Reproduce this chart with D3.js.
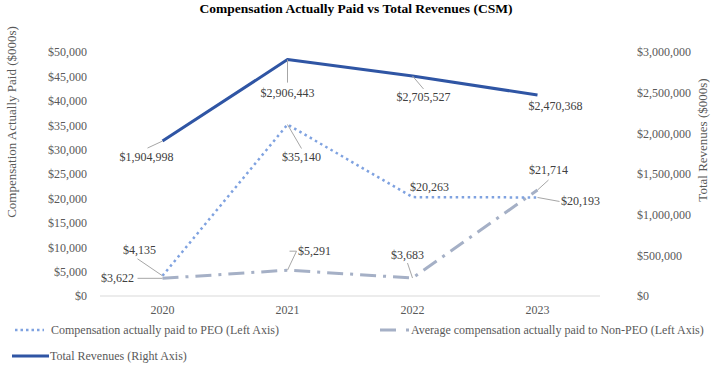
<!DOCTYPE html>
<html><head><meta charset="utf-8">
<script src="https://cdn.jsdelivr.net/npm/d3@7"></script>
<style>body{margin:0;background:#fff}svg{display:block}text{font-family:"Liberation Serif","Times New Roman",serif}</style>
</head><body><svg id="c" width="712" height="369"></svg>
<script>
const years = ["2020","2021","2022","2023"];
const peo = [4135, 35140, 20263, 20193];
const nonPeo = [3622, 5291, 3683, 21714];
const revenue = [1904998, 2906443, 2705527, 2470368];
const leftTicks = [0,5000,10000,15000,20000,25000,30000,35000,40000,45000,50000];
const rightTicks = [0,500000,1000000,1500000,2000000,2500000,3000000];

// label placement (layout only): [dx, dy] of label center from point, leader path offsets
const peoLbl = [{dx:-23,dy:-26,lead:[[-25,-17]]},{dx:14,dy:32,lead:[[14,24]]},{dx:17,dy:-10,lead:null},{dx:43,dy:4,lead:[[22,4]]}];
const nonLbl = [{dx:-45,dy:0,lead:[[-25,0]]},{dx:27,dy:-19,lead:[[9,-19],[2,-19]]},{dx:-5,dy:-23,lead:[[-5,-15]]},{dx:11,dy:-20,lead:[[11,-10]]}];
const revLbl = [{dx:-16,dy:16,lead:[[-15,7]]},{dx:0,dy:33,lead:[[0,23]]},{dx:11,dy:21,lead:[[11,13]]},{dx:18,dy:11,lead:null}];

const svg = d3.select("#c");
const L=100, R=600, T=52, B=296;
const x = d3.scaleBand().domain(years).range([L,R]).padding(0);
const cx = d => x(d)+x.bandwidth()/2;
const yL = d3.scaleLinear().domain([0,50000]).range([B,T]);
const yR = d3.scaleLinear().domain([0,3000000]).range([B,T]);
const fmt = v => "$"+d3.format(",")(v);

svg.append("text").attr("x",356).attr("y",13).attr("text-anchor","middle")
  .attr("font-size",13.5).attr("font-weight","bold").attr("fill","#000")
  .text("Compensation Actually Paid vs Total Revenues (CSM)");

svg.append("line").attr("x1",L).attr("x2",R).attr("y1",B).attr("y2",B).attr("stroke","#d9d9d9").attr("stroke-width",1);

const gl = svg.append("g").attr("transform",`translate(${L},0)`)
  .call(d3.axisLeft(yL).tickValues(leftTicks).tickFormat(fmt).tickSize(0).tickPadding(13));
const gr = svg.append("g").attr("transform",`translate(${R},0)`)
  .call(d3.axisRight(yR).tickValues(rightTicks).tickFormat(fmt).tickSize(0).tickPadding(37));
const gx = svg.append("g").attr("transform",`translate(0,${B})`)
  .call(d3.axisBottom(x).tickSize(0).tickPadding(9));
[gl,gr,gx].forEach(g=>{g.select(".domain").remove();
  g.selectAll("text").attr("font-size",12).attr("fill","#595959");});

svg.append("text").attr("transform","translate(16,122) rotate(-90)").attr("text-anchor","middle")
  .attr("font-size",13).attr("fill","#595959").text("Compensation Actually Paid ($000s)");
svg.append("text").attr("transform","translate(707,140) rotate(-90)").attr("text-anchor","middle")
  .attr("font-size",13).attr("fill","#595959").text("Total Revenues ($000s)");

const lineL = d3.line().x((d,i)=>cx(years[i])).y(d=>yL(d));
const lineR = d3.line().x((d,i)=>cx(years[i])).y(d=>yR(d));
svg.append("path").attr("d",lineL(nonPeo)).attr("fill","none").attr("stroke","#A5B0C6")
  .attr("stroke-width",3).attr("stroke-dasharray","16,7,3,7");
svg.append("path").attr("d",lineL(peo)).attr("fill","none").attr("stroke","#7FA2E0")
  .attr("stroke-width",2.5).attr("stroke-dasharray","2.5,3.5");
svg.append("path").attr("d",lineR(revenue)).attr("fill","none").attr("stroke","#2F55A4")
  .attr("stroke-width",3).attr("stroke-linejoin","round");

function labels(vals, scale, lbl){
  vals.forEach((v,i)=>{
    const px=cx(years[i]), py=scale(v), o=lbl[i];
    if(o.lead){
      const pts=[[px,py]].concat(o.lead.map(p=>[px+p[0],py+p[1]]));
      svg.append("path").attr("d",d3.line()(pts)).attr("fill","none").attr("stroke","#a6a6a6").attr("stroke-width",1);
    }
    svg.append("text").attr("x",px+o.dx).attr("y",py+o.dy).attr("text-anchor","middle")
      .attr("dominant-baseline","central").attr("font-size",12).attr("fill","#404040").text(fmt(v));
  });
}
labels(peo,yL,peoLbl);
labels(nonPeo,yL,nonLbl);
labels(revenue,yR,revLbl);

const lg = svg.append("g");
lg.append("line").attr("x1",15).attr("x2",44).attr("y1",330).attr("y2",330).attr("stroke","#7FA2E0")
  .attr("stroke-width",2.5).attr("stroke-dasharray","2.5,3");
lg.append("text").attr("x",51).attr("y",330).attr("dominant-baseline","central").attr("font-size",12).attr("fill","#595959")
  .text("Compensation actually paid to PEO (Left Axis)");
lg.append("line").attr("x1",380).attr("x2",409).attr("y1",330).attr("y2",330).attr("stroke","#A5B0C6")
  .attr("stroke-width",3).attr("stroke-dasharray","16,10,3,10");
lg.append("text").attr("x",411).attr("y",330).attr("dominant-baseline","central").attr("font-size",12).attr("fill","#595959")
  .text("Average compensation actually paid to Non-PEO (Left Axis)");
lg.append("line").attr("x1",12).attr("x2",49).attr("y1",356).attr("y2",356).attr("stroke","#2F55A4").attr("stroke-width",3);
lg.append("text").attr("x",50).attr("y",356).attr("dominant-baseline","central").attr("font-size",12).attr("fill","#595959")
  .text("Total Revenues (Right Axis)");
</script></body></html>
